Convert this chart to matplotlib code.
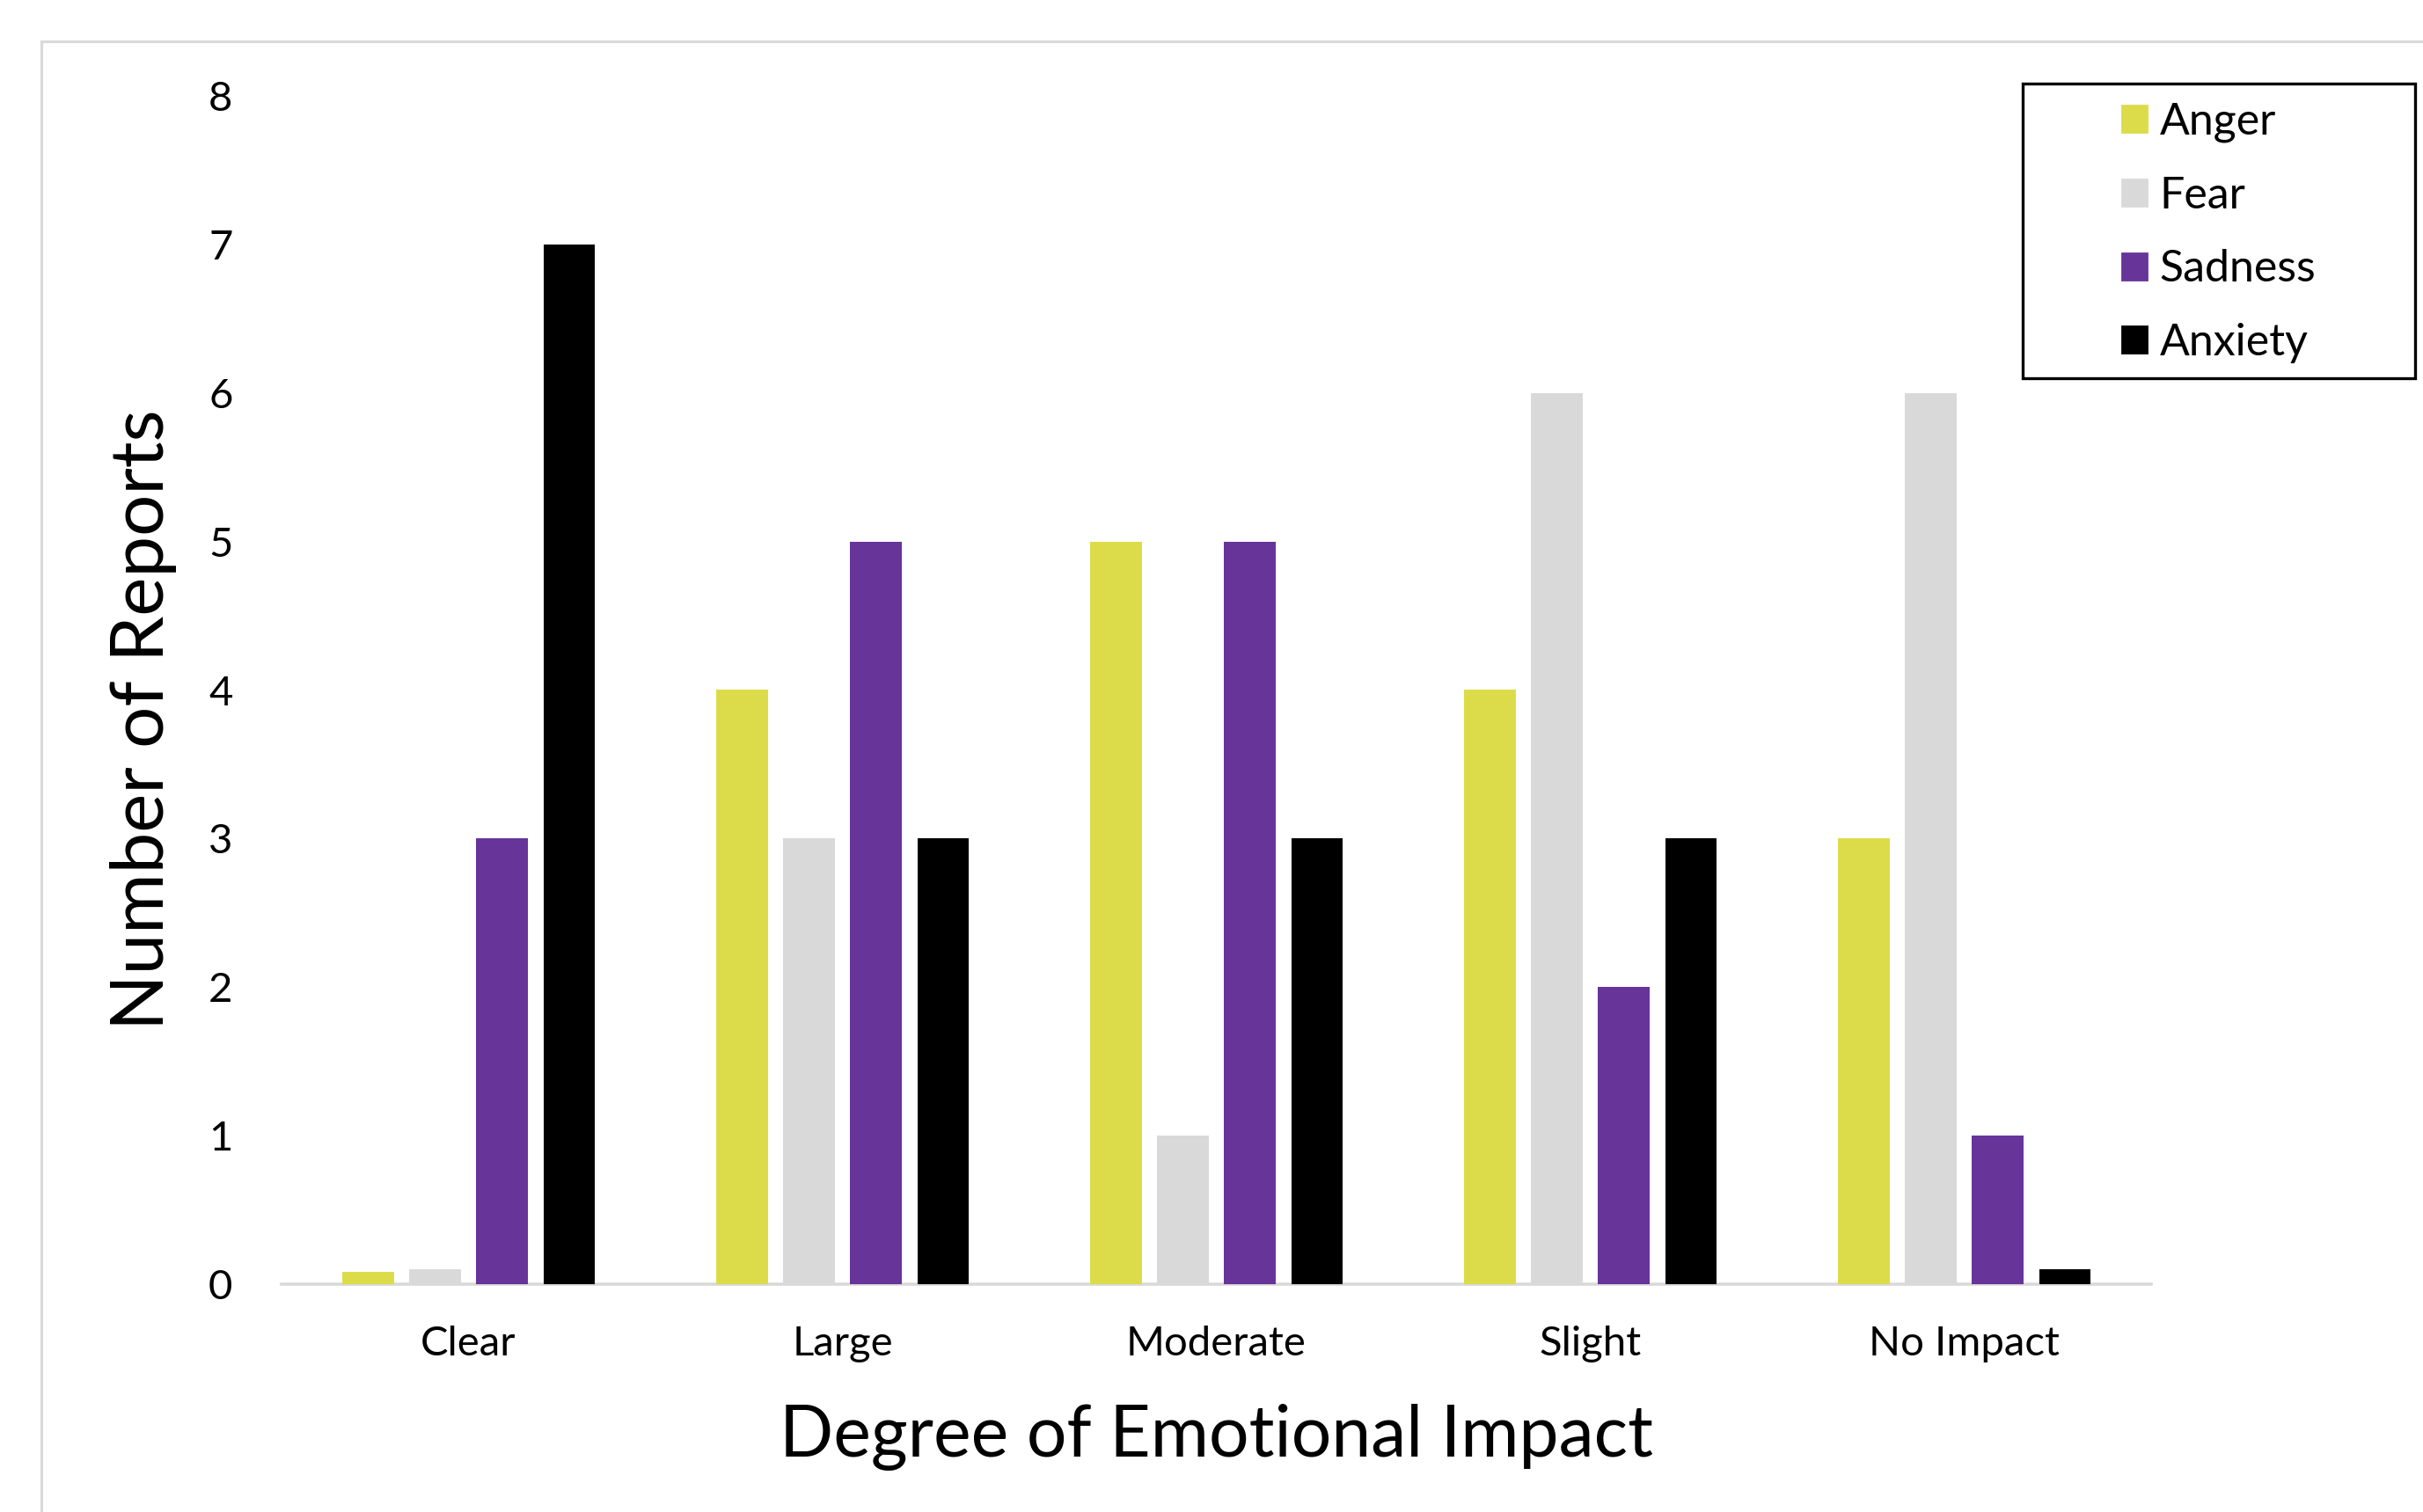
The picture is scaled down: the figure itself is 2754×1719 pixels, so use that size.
import matplotlib
matplotlib.use("Agg")
import matplotlib.pyplot as plt
from matplotlib.lines import Line2D
from matplotlib.patches import Rectangle
import numpy as np

# values
categories = ["Clear", "Large", "Moderate", "Slight", "No Impact"]
anger = [0.08, 4, 5, 4, 3]
fear = [0.1, 3, 1, 6, 6]
sadness = [3, 5, 5, 2, 1]
anxiety = [7, 3, 3, 3, 0.1]
series_names = ["Anger", "Fear", "Sadness", "Anxiety"]
series_colors = ["#DCDC4A", "#D9D9D9", "#67349A", "#000000"]

plt.rcParams["font.family"] = ["Lato", "DejaVu Sans"]

W, H = 2754, 1719
dpi = 200
fig = plt.figure(figsize=(W / dpi, H / dpi), dpi=dpi)
ax = fig.add_axes([320 / W, 259 / H, (2445 - 320) / W, (1610 - 259) / H])

x = np.arange(len(categories))
step = 0.179
width = 0.137
for i, (vals, name, col) in enumerate(zip([anger, fear, sadness, anxiety], series_names, series_colors)):
    ax.bar(x + (i - 1.5) * step, vals, width=width, color=col, label=name, zorder=2)

ax.set_xlim(-0.5, len(categories) - 0.5)
ax.set_ylim(0, 8)
ax.set_yticks(range(0, 9))
ax.set_xticks(x)
ax.set_xticklabels(categories)

for s in ["top", "right", "left"]:
    ax.spines[s].set_visible(False)
ax.spines["bottom"].set_color("#D9D9D9")
ax.spines["bottom"].set_linewidth(1.3)
ax.spines["bottom"].set_zorder(1)
ax.tick_params(axis="both", length=0, labelsize=17, colors="black")
ax.tick_params(axis="y", pad=20)
ax.tick_params(axis="x", pad=17)

ax.set_ylabel("Number of Reports", fontsize=30, labelpad=13, y=0.475)
ax.set_xlabel("Degree of Emotional Impact", fontsize=29, labelpad=17)

# legend without its own frame; box drawn separately
handles = [Rectangle((0, 0), 1, 1, color=c) for c in series_colors]
fig.legend(handles, series_names, loc="upper left",
           bbox_to_anchor=(2412 / W, 1 - 116 / H), frameon=False,
           fontsize=18, handlelength=0.55, handleheight=0.55,
           handletextpad=0.3, labelspacing=0.75, borderpad=0, borderaxespad=0)
fig.add_artist(Rectangle((2299 / W, 1 - 430 / H), (2745 - 2299) / W, (430 - 95) / H,
                         transform=fig.transFigure, fill=False, edgecolor="black", linewidth=1.2))

# light outer frame of the chart area
fig.add_artist(Line2D([47 / W, 47 / W], [0, 1 - 47 / H], transform=fig.transFigure,
                      color="#D9D9D9", linewidth=1.1))
fig.add_artist(Line2D([47 / W, 1], [1 - 47 / H, 1 - 47 / H], transform=fig.transFigure,
                      color="#D9D9D9", linewidth=1.1))

fig.savefig("out.png", dpi=dpi, facecolor="white")
